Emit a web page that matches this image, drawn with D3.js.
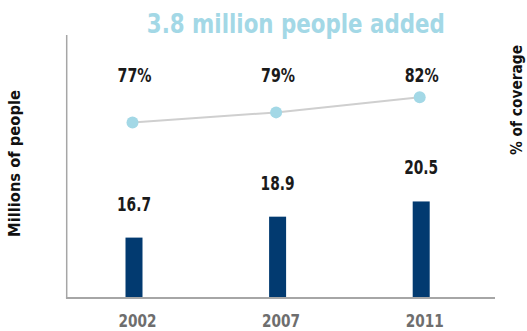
<!DOCTYPE html>
<html>
<head>
<meta charset="utf-8">
<script src="https://cdn.jsdelivr.net/npm/d3@7/dist/d3.min.js"></script>
<style>
  html, body { margin: 0; padding: 0; background: #ffffff; }
  svg { display: block; }
  text { font-family: "Liberation Sans Narrow", "Arial Narrow", "DejaVu Sans Condensed", "Liberation Sans", sans-serif; font-weight: bold; }
</style>
</head>
<body>
<svg id="chart" width="527" height="331"></svg>
<script>
// Survey years
const years = ["2002", "2007", "2011"];
// Population covered, millions of people
const people = [16.7, 18.9, 20.5];
// Share of coverage, percent
const coverage = [77, 79, 82];
const title = "3.8 million people added";
const leftTitle = "Millions of people";
const rightTitle = "% of coverage";

const svg = d3.select("#chart");
const plot = { left: 66.7, right: 495, top: 35, bottom: 298 };

const navy = "#023a70";
const lightBlue = "#a3d8e6";
const axisGrey = "#a6a6a6";

const x = d3.scalePoint().domain(years).range([132.5, 419.7]);
const yBars = d3.scaleLinear().domain([10.35, 38]).range([plot.bottom, plot.top]);
const yLine = d3.scaleLinear().domain([77, 82]).range([122.5, 97.2]);

// Title
svg.append("text")
  .attr("x", 295.8).attr("y", 33)
  .attr("text-anchor", "middle")
  .attr("font-size", 26.5)
  .attr("fill", lightBlue)
  .attr("textLength", 298).attr("lengthAdjust", "spacingAndGlyphs")
  .text(title);

// Bars
const barW = 17;
svg.append("g").selectAll("rect")
  .data(years)
  .join("rect")
  .attr("x", d => x(d) + 1.5 - barW / 2)
  .attr("width", barW)
  .attr("y", (d, i) => yBars(people[i]))
  .attr("height", (d, i) => plot.bottom - yBars(people[i]))
  .attr("fill", navy);

// Axes lines (left and bottom)
svg.append("line")
  .attr("x1", plot.left).attr("x2", plot.left)
  .attr("y1", plot.top).attr("y2", plot.bottom)
  .attr("stroke", axisGrey).attr("stroke-width", 1.5);
svg.append("line")
  .attr("x1", plot.left - 0.75).attr("x2", plot.right)
  .attr("y1", plot.bottom).attr("y2", plot.bottom)
  .attr("stroke", axisGrey).attr("stroke-width", 2);

// Coverage line and markers
const linePts = years.map((d, i) => [x(d), yLine(coverage[i])]);
svg.append("path")
  .attr("d", d3.line()(linePts))
  .attr("fill", "none")
  .attr("stroke", "#cfcfcf")
  .attr("stroke-width", 2);
svg.append("g").selectAll("circle")
  .data(linePts)
  .join("circle")
  .attr("cx", d => d[0]).attr("cy", d => d[1])
  .attr("r", 6)
  .attr("fill", lightBlue);

// Percent labels
svg.append("g").selectAll("text")
  .data(years)
  .join("text")
  .attr("x", d => x(d) + 2)
  .attr("y", 82)
  .attr("text-anchor", "middle")
  .attr("font-size", 19)
  .attr("fill", "#1a1a1a")
  .attr("textLength", 34).attr("lengthAdjust", "spacingAndGlyphs")
  .text((d, i) => coverage[i] + "%");

// Bar value labels
svg.append("g").selectAll("text")
  .data(years)
  .join("text")
  .attr("x", d => x(d) + 1.5)
  .attr("y", (d, i) => yBars(people[i]) - 27)
  .attr("text-anchor", "middle")
  .attr("font-size", 19)
  .attr("fill", "#1a1a1a")
  .attr("textLength", 34).attr("lengthAdjust", "spacingAndGlyphs")
  .text((d, i) => people[i].toFixed(1));

// Year labels
svg.append("g").selectAll("text")
  .data(years)
  .join("text")
  .attr("x", d => x(d) + 5)
  .attr("y", 327)
  .attr("text-anchor", "middle")
  .attr("font-size", 17)
  .attr("fill", "#6e6e6e")
  .attr("textLength", 38).attr("lengthAdjust", "spacingAndGlyphs")
  .text(d => d);

// Axis titles
svg.append("text")
  .attr("transform", "translate(20,163.5) rotate(-90)")
  .attr("text-anchor", "middle")
  .attr("font-size", 15.5)
  .attr("fill", "#111")
  .attr("textLength", 147).attr("lengthAdjust", "spacingAndGlyphs")
  .text(leftTitle);
svg.append("text")
  .attr("transform", "translate(522,100) rotate(-90)")
  .attr("text-anchor", "middle")
  .attr("font-size", 15.5)
  .attr("fill", "#111")
  .attr("textLength", 110).attr("lengthAdjust", "spacingAndGlyphs")
  .text(rightTitle);
</script>
</body>
</html>
